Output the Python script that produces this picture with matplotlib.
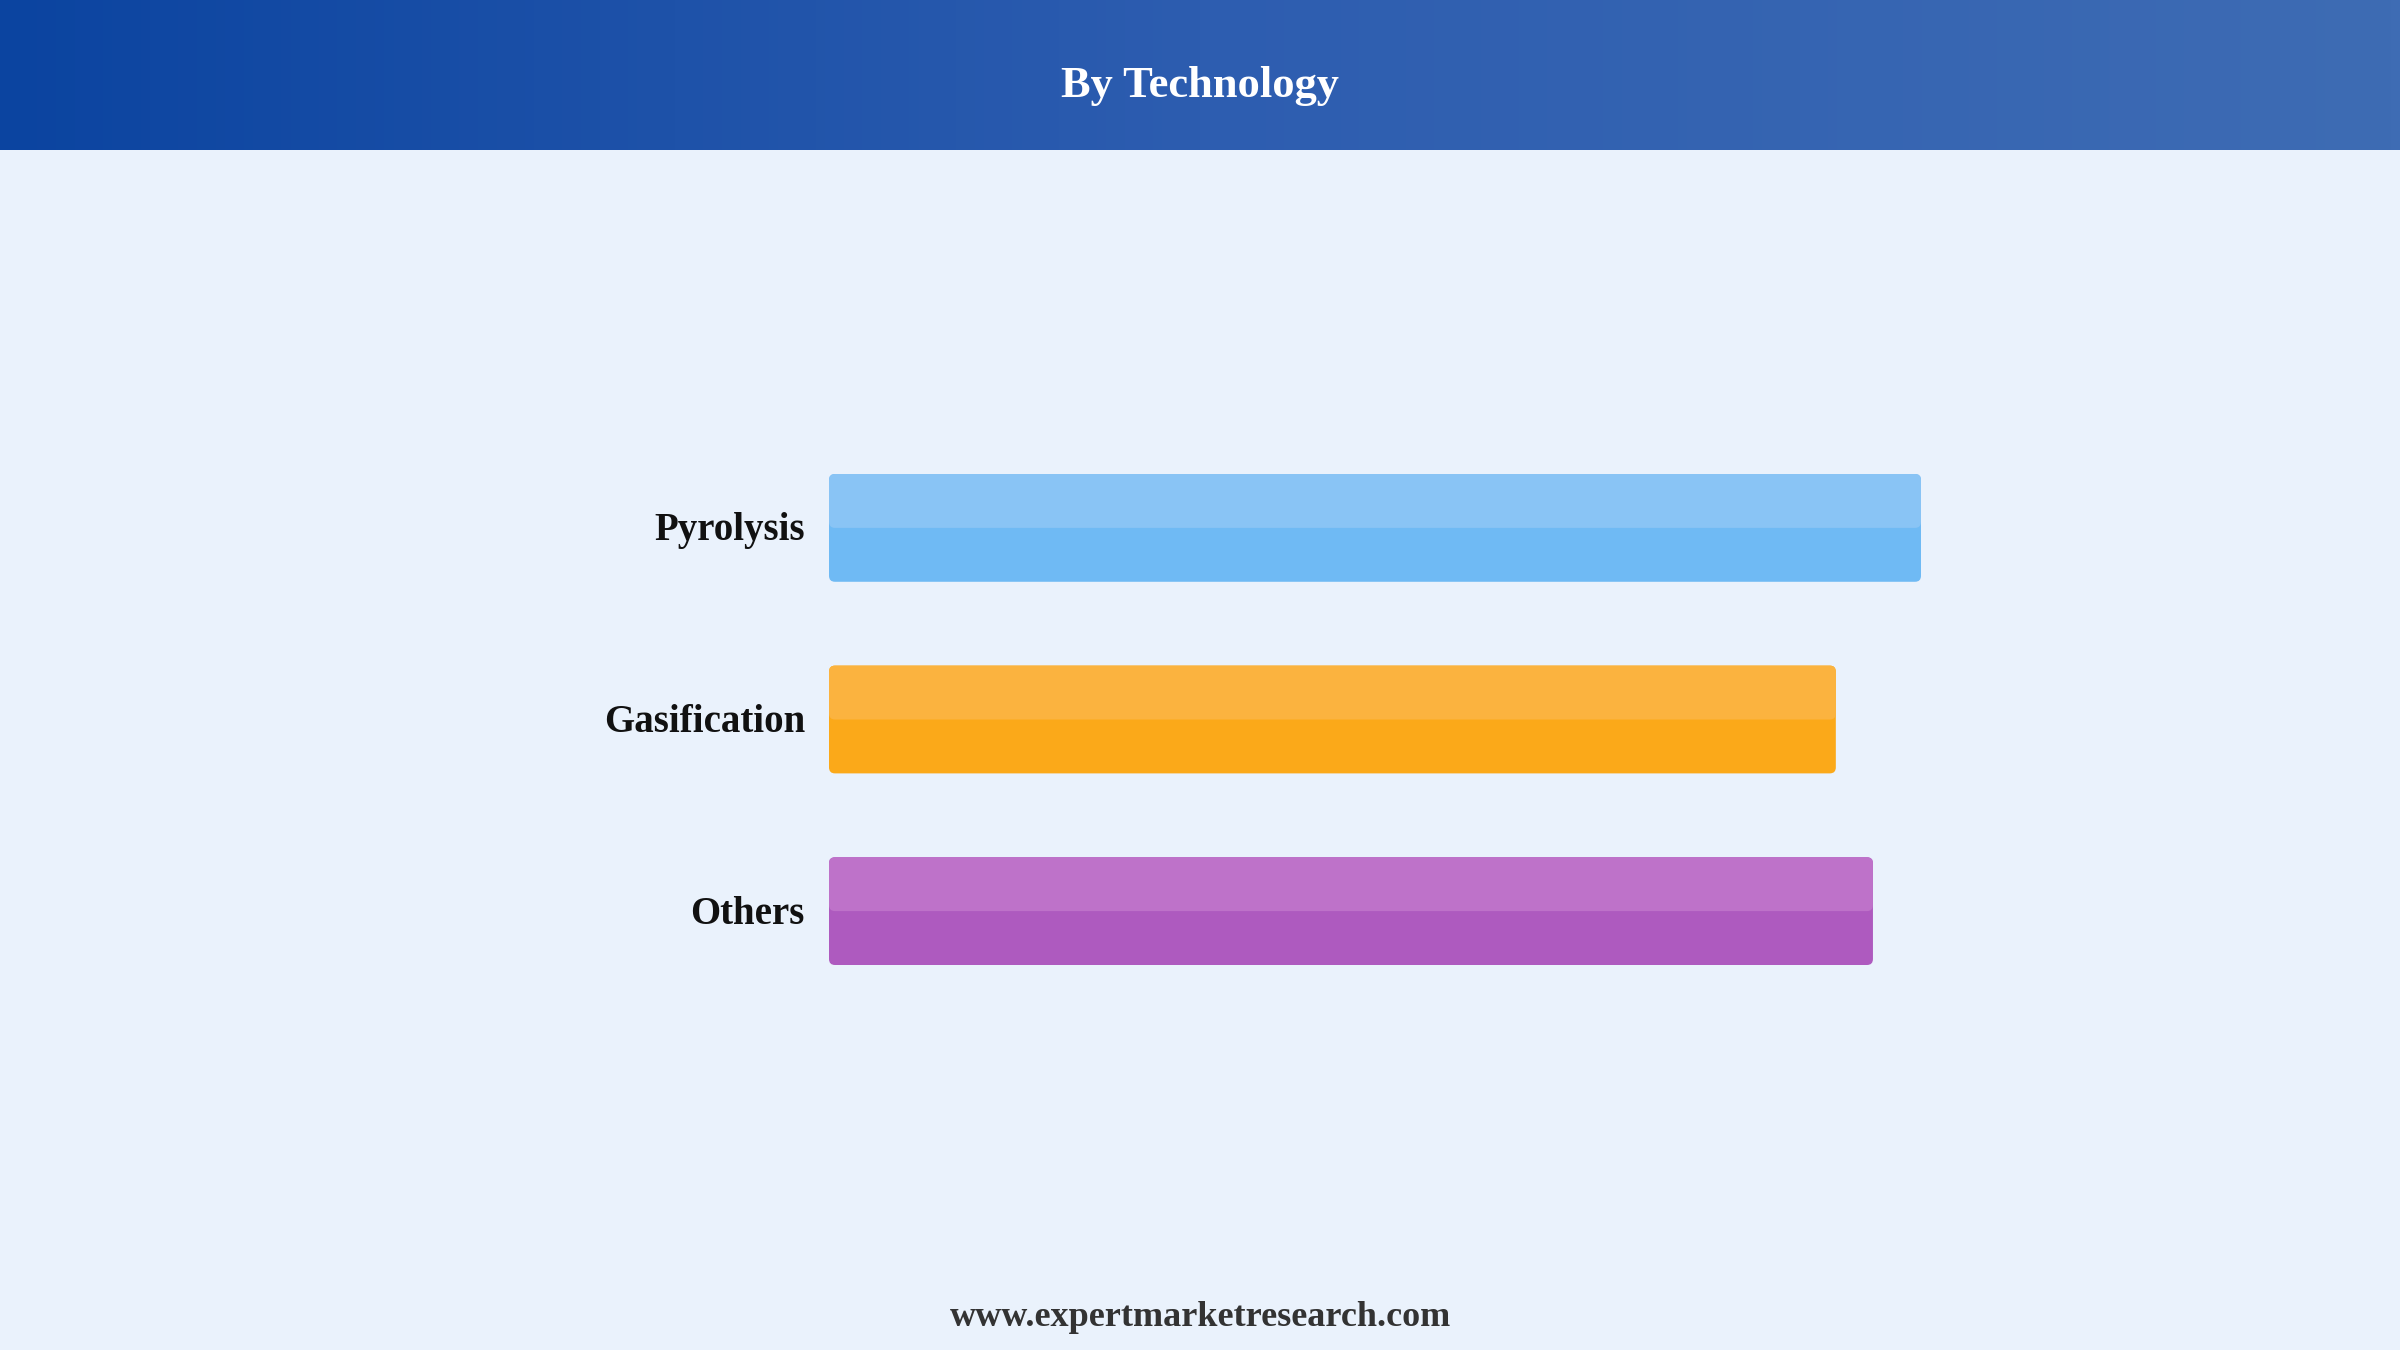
import numpy as np
import matplotlib
matplotlib.use("Agg")
import matplotlib.pyplot as plt
from matplotlib.patches import FancyBboxPatch
from matplotlib.colors import LinearSegmentedColormap

# ---- data ----
categories = ["Pyrolysis", "Gasification", "Others"]
values = [100.0, 92.2, 95.6]
light_colors = ["#89C4F5", "#FBB33F", "#BE72C9"]
dark_colors = ["#6FBAF4", "#FBA919", "#AE5ABF"]
title = "By Technology"
footer = "www.expertmarketresearch.com"

BG = "#EAF2FC"
W, H = 2400, 1350
fig = plt.figure(figsize=(24, 13.5), dpi=100, facecolor=BG)

# header gradient
hax = fig.add_axes([0, 1 - 150 / H, 1, 150 / H])
cmap = LinearSegmentedColormap.from_list("hdr", ["#0B44A0", "#2D5DB0", "#3E6CB4"])
grad = np.linspace(0, 1, 512).reshape(1, -1)
hax.imshow(grad, aspect="auto", cmap=cmap, extent=[0, 1, 0, 1])
hax.set_axis_off()
hax.text(0.5, 0.43, title, color="white", fontsize=32, fontweight="bold",
         family="Liberation Serif", ha="center", va="center", transform=hax.transAxes)

# chart axes
left_px, right_px = 829, 1921
top_px, bot_px = 474, 965
ax = fig.add_axes([left_px / W, 1 - bot_px / H, (right_px - left_px) / W, (bot_px - top_px) / H])
ax.set_facecolor(BG)
bar_h = 0.5625
ax.set_xlim(0, 100)
ax.set_ylim(2 + bar_h / 2, -bar_h / 2)
ax.set_axis_off()

xpp = 100 / (right_px - left_px)
ypp = (2 + bar_h) / (bot_px - top_px)
r = 6 * xpp
aspect = ypp / xpp

for i, (cat, v) in enumerate(zip(categories, values)):
    y0 = i - bar_h / 2
    base = FancyBboxPatch((0, y0), v, bar_h, boxstyle=f"round,pad=0,rounding_size={r}",
                          mutation_aspect=aspect, facecolor=dark_colors[i], edgecolor="none")
    ax.add_patch(base)
    top = FancyBboxPatch((0, y0), v, bar_h / 2, boxstyle=f"round,pad=0,rounding_size={r}",
                         mutation_aspect=aspect, facecolor=light_colors[i], edgecolor="none")
    ax.add_patch(top)
    ax.text(-24 * xpp, i + 3 * ypp, cat, ha="right", va="center", fontsize=28, fontweight="bold",
            family="Liberation Serif", color="#111111", clip_on=False)

fig.text(0.5, 1 - 1318 / H, footer, ha="center", va="center", fontsize=26, fontweight="bold",
         family="Liberation Serif", color="#333333")

fig.savefig("out.png", dpi=100, facecolor=BG)
